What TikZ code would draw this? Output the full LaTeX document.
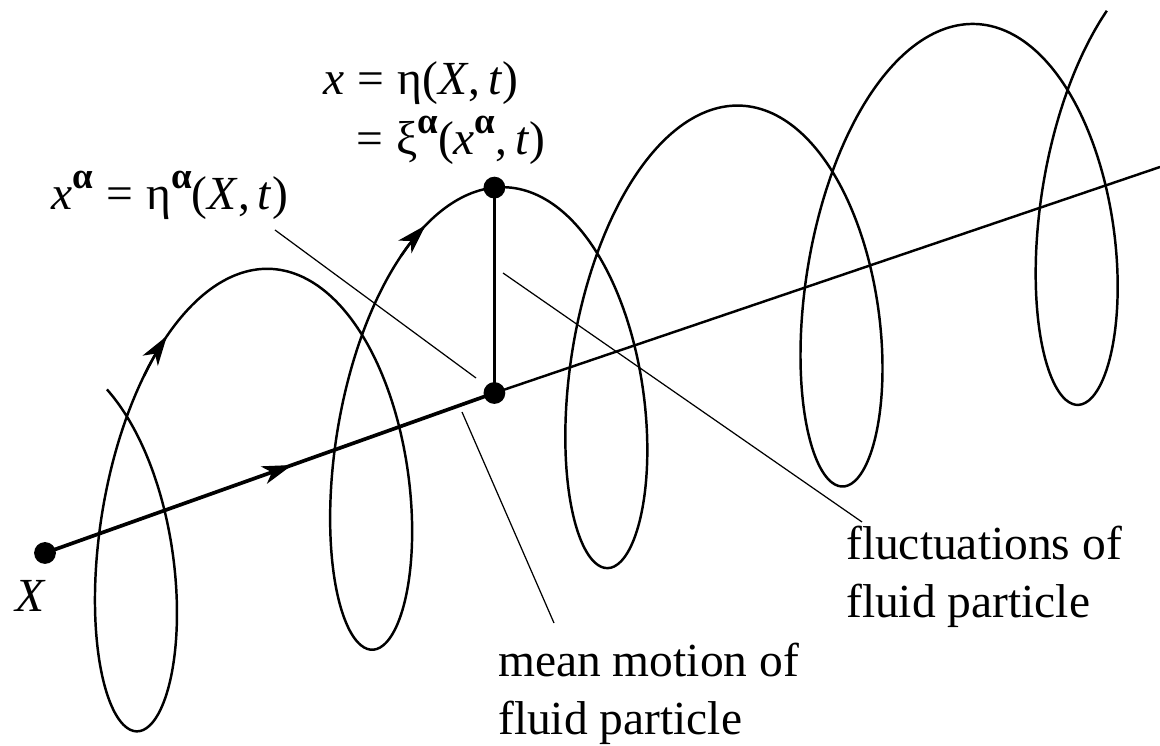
\documentclass[tikz,border=0pt]{standalone}
\usepackage{fontspec}
\setmainfont{Liberation Serif}
\usepackage{tikz}
\usetikzlibrary{
  arrows.meta,          % Stealth 箭头
  calc,                 % 坐标计算
  decorations.markings  % 线段中部箭头
}

% 上标 alpha、等号与逗号间距
\newcommand{\supalpha}{\raisebox{6.2pt}{\fontsize{10.5}{10}\selectfont\bfseries α}}
\newcommand{\eqsp}{\hspace{0.28em}=\hspace{0.28em}}
\newcommand{\cmsp}{,\hspace{0.17em}}

\begin{document}
\begin{tikzpicture}[x=0.01cm, y=-0.01cm, line width=0.7pt,
  >={Stealth[length=8.5pt, width=5.2pt, inset=2.4pt]},
  dot/.style={circle, fill=black, inner sep=0pt, minimum size=6.2pt},
  leader/.style={line width=0.35pt},
  lbl/.style={inner sep=0pt, anchor=base west, font=\fontsize{13.5}{16}\selectfont}]

  \useasboundingbox (0,0) rectangle (1160,746);

  % =========== 平均运动轴线 ===========
  \node[dot] (X) at (45,553) {};        % 初始位置 X
  \node[dot] (M) at (494.4,393) {};     % 平均位置 x^alpha
  \node[dot] (P) at (494.4,187.6) {};   % 粒子位置 x
  \coordinate (E) at (1160,167);        % 轴线右端

  \draw[line width=1.05pt, postaction={decorate},
        decoration={markings, mark=at position 0.55 with {\arrow{>}}}]
    (X.center) -- (M.center);
  \draw (M.center) -- (E);

  % 脉动位移 (竖直粗线)
  \draw[line width=1.05pt] (P.center) -- (M.center);

  % =========== 螺旋轨迹 ===========
  % 参数 t：沿轴前进 37.43/rad，横向半径 92，纵向半径 210.5
  \draw plot[variable=\t, domain=0.685:30.66, samples=500, smooth]
    ({20+37.43*\t+92*sin(\t r)+4*cos(\t r)}, {561.3-12.99*\t-210.5*cos(\t r)});

  % 轨迹上的两个箭头
  \draw[->] plot[variable=\t, domain=5.3:5.53, samples=12, smooth]
    ({20+37.43*\t+92*sin(\t r)+4*cos(\t r)}, {561.3-12.99*\t-210.5*cos(\t r)});
  \draw[->] plot[variable=\t, domain=11.8:12.02, samples=12, smooth]
    ({20+37.43*\t+92*sin(\t r)+4*cos(\t r)}, {561.3-12.99*\t-210.5*cos(\t r)});

  % =========== 文字标注 ===========
  \node[lbl] (Xlbl) at (14,612) {\textit{X}};
  \node[lbl] (eta)  at (322,95)  {\textit{x}\eqsp η(\textit{X}\cmsp\textit{t})};
  \node[lbl] (xi)   at (355,155) {=\hspace{0.28em}ξ\supalpha(\textit{x}\supalpha\cmsp\textit{t})};
  \node[lbl] (meanx) at (50,210) {\textit{x}\supalpha\eqsp η\supalpha(\textit{X}\cmsp\textit{t})};

  \node[lbl] (fluc1) at (845,560) {fluctuations of};
  \node[lbl] (fluc2) at (845,618) {fluid particle};
  \node[lbl] (mean1) at (497,677) {mean motion of};
  \node[lbl] (mean2) at (497,735) {fluid particle};

  % 引线
  \coordinate (L1a) at (275,230);
  \coordinate (L1b) at (476,378);
  \coordinate (L2a) at (503,273);
  \coordinate (L2b) at (862,522);
  \coordinate (L3a) at (462,412);
  \coordinate (L3b) at (554,623);
  \draw[leader] (L1a) -- (L1b);
  \draw[leader] (L2a) -- (L2b);
  \draw[leader] (L3a) -- (L3b);

\end{tikzpicture}
\end{document}
